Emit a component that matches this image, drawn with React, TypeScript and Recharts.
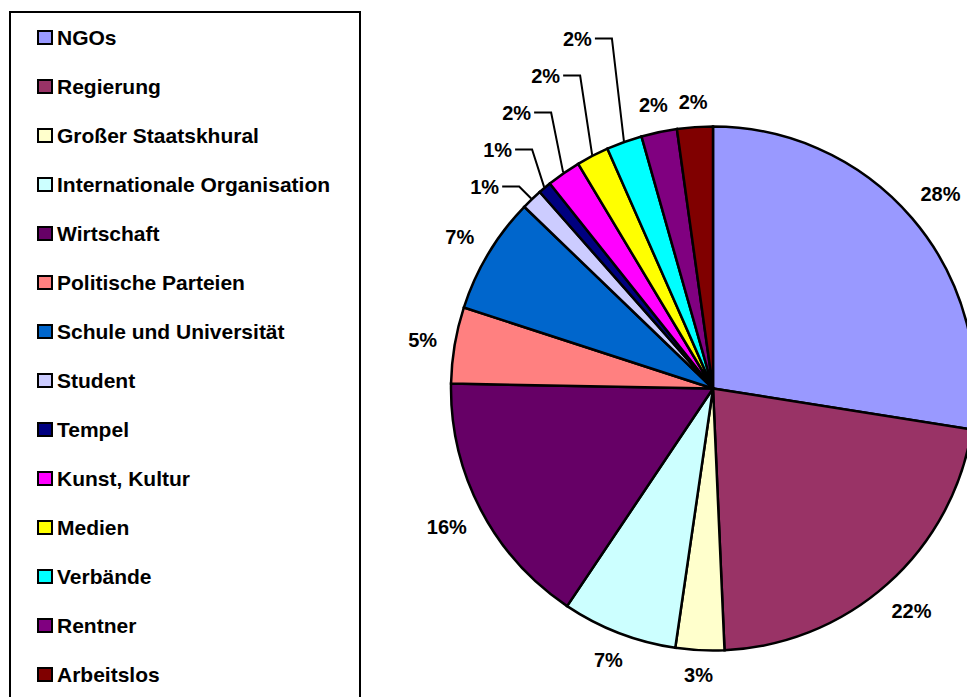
import { PieChart, Pie, Cell, Legend } from 'recharts';

const categories = [
  'NGOs',
  'Regierung',
  'Großer Staatskhural',
  'Internationale Organisation',
  'Wirtschaft',
  'Politische Parteien',
  'Schule und Universität',
  'Student',
  'Tempel',
  'Kunst, Kultur',
  'Medien',
  'Verbände',
  'Rentner',
  'Arbeitslos',
];

// share in percent
const shares = [27.5, 21.8, 3.0, 7.1, 15.9, 4.7, 7.2, 1.3, 0.8, 2.1, 2.0, 2.2, 2.2, 2.2];

// thin slices whose labels are pulled out with a leader line
const leaderSlices = ['Student', 'Tempel', 'Kunst, Kultur', 'Medien', 'Verbände'];

const COLORS = [
  '#9999FF', '#993366', '#FFFFCC', '#CCFFFF', '#660066', '#FF8080', '#0066CC',
  '#CCCCFF', '#000080', '#FF00FF', '#FFFF00', '#00FFFF', '#800080', '#800000',
];

const FONT = '"Liberation Sans", Arial, Helvetica, sans-serif';
const RAD = Math.PI / 180;

const data = categories.map((name, i) => ({ name, value: shares[i] }));

function renderLabel(props: any) {
  const { cx, cy, midAngle, outerRadius, value, index } = props;
  const text = `${Math.round(value)}%`;
  const cos = Math.cos(-midAngle * RAD);
  const sin = Math.sin(-midAngle * RAD);
  const k = leaderSlices.indexOf(categories[index]);

  if (k >= 0) {
    const ax = cx + (outerRadius + 1) * cos;
    const ay = cy + (outerRadius + 1) * sin;
    const ly = cy - outerRadius + 60 - k * 37;
    const ex = ax - 12;
    return (
      <g key={`lbl-${index}`}>
        <polyline
          points={`${ax},${ay} ${ex},${ly} ${ex - 17},${ly}`}
          fill="none"
          stroke="#000"
          strokeWidth={2}
        />
        <text
          x={ex - 20}
          y={ly}
          textAnchor="end"
          dominantBaseline="central"
          fontFamily={FONT}
          fontWeight="bold"
          fontSize={20}
          fill="#000"
        >
          {text}
        </text>
      </g>
    );
  }

  const w = (text.length - 1) * 11.1 + 17.8;
  const dist = outerRadius + 17 + Math.abs(cos) * (w / 2) + Math.abs(sin) * 7.5;
  return (
    <text
      key={`lbl-${index}`}
      x={cx + dist * cos}
      y={cy + dist * sin}
      textAnchor="middle"
      dominantBaseline="central"
      fontFamily={FONT}
      fontWeight="bold"
      fontSize={20}
      fill="#000"
    >
      {text}
    </text>
  );
}

function LegendBox() {
  return (
    <div
      style={{
        width: 352,
        height: 720,
        boxSizing: 'border-box',
        border: '2px solid #000',
        background: '#fff',
        paddingLeft: 26,
        fontFamily: FONT,
        fontWeight: 'bold',
        fontSize: 21,
        color: '#000',
        textAlign: 'left',
      }}
    >
      {categories.map((name, i) => (
        <div key={name} style={{ height: 49, display: 'flex', alignItems: 'center' }}>
          <span
            style={{
              display: 'inline-block',
              width: 16,
              height: 15,
              boxSizing: 'border-box',
              border: '2px solid #000',
              background: COLORS[i],
              marginRight: 4,
              flexShrink: 0,
            }}
          />
          <span style={{ whiteSpace: 'nowrap' }}>{name}</span>
        </div>
      ))}
    </div>
  );
}

export default function App() {
  return (
    <div
      style={{
        position: 'absolute',
        left: 0,
        top: 0,
        width: 967,
        height: 697,
        overflow: 'hidden',
        background: '#fff',
      }}
    >
      <PieChart width={967} height={697} margin={{ top: 0, right: 0, bottom: 0, left: 0 }}>
        <Pie
          data={data}
          dataKey="value"
          nameKey="name"
          cx={713}
          cy={388.5}
          outerRadius={262}
          startAngle={90}
          endAngle={-270}
          stroke="#000"
          strokeWidth={2.5}
          label={renderLabel}
          labelLine={false}
          isAnimationActive={false}
        >
          {data.map((d, i) => (
            <Cell key={d.name} fill={COLORS[i]} />
          ))}
        </Pie>
        <Legend
          layout="horizontal"
          align="center"
          verticalAlign="middle"
          wrapperStyle={{ left: 9, top: 11, width: 352 }}
          content={() => <LegendBox />}
        />
      </PieChart>
    </div>
  );
}
